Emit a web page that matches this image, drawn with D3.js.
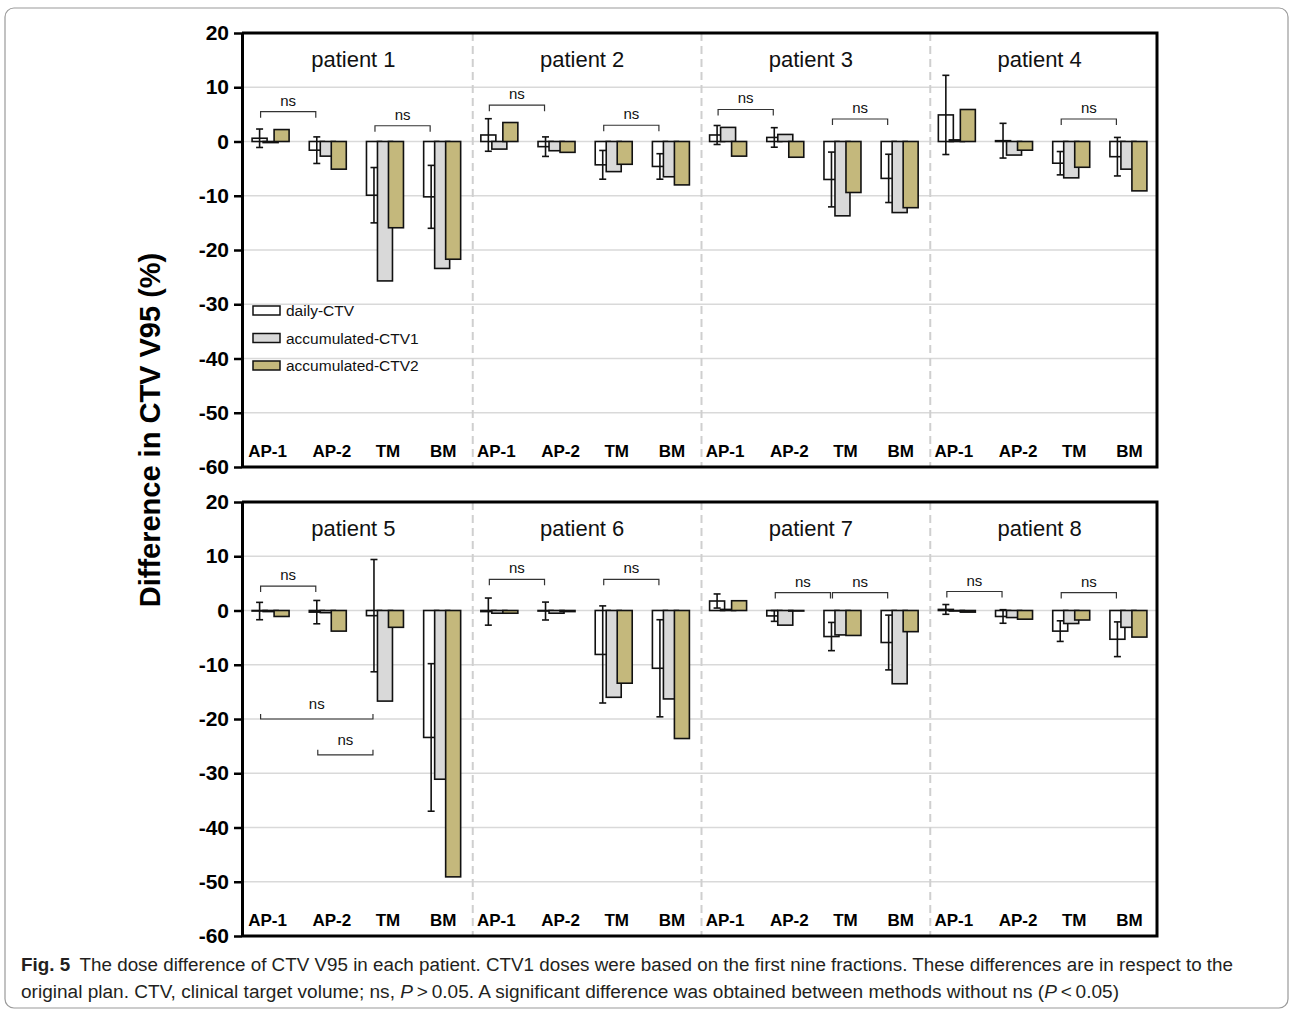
<!DOCTYPE html>
<html>
<head>
<meta charset="utf-8">
<script src="https://cdn.jsdelivr.net/npm/d3@7"></script>
<style>
  body { margin: 0; background: #fff; }
  text { font-family: "Liberation Sans", Arial, sans-serif; }
</style>
</head>
<body>
<svg width="1290" height="1011"></svg>
<script>
// ---- data ----
let patients = ["patient 1", "patient 2", "patient 3", "patient 4",
                "patient 5", "patient 6", "patient 7", "patient 8"];
let sites = ["AP-1", "AP-2", "TM", "BM"];
let methods = ["daily-CTV", "accumulated-CTV1", "accumulated-CTV2"];
let yTicks = [20, 10, 0, -10, -20, -30, -40, -50, -60];

// one row per patient, columns follow sites
let dailyCTV = [
  [0.6, -1.6, -9.9, -10.2],
  [1.2, -0.95, -4.3, -4.6],
  [1.2, 0.75, -7.0, -6.8],
  [4.9, 0.15, -4.0, -2.8],
  [-0.1, -0.3, -0.95, -23.4],
  [-0.2, -0.1, -8.1, -10.65],
  [1.75, -1.0, -4.8, -5.9],
  [0.2, -1.1, -3.8, -5.3]
];
let dailySD = [
  [1.7, 2.45, 5.1, 5.8],
  [3.0, 1.8, 2.65, 2.35],
  [1.75, 1.8, 5.05, 4.45],
  [7.3, 3.2, 2.15, 3.55],
  [1.6, 2.15, 10.35, 13.6],
  [2.5, 1.65, 8.95, 8.95],
  [1.3, 1.0, 2.6, 5.05],
  [0.9, 1.25, 1.9, 3.2]
];
let accCTV1 = [
  [-0.2, -2.7, -25.7, -23.4],
  [-1.4, -1.7, -5.55, -6.5],
  [2.6, 1.3, -13.7, -13.1],
  [0.3, -2.5, -6.7, -5.1],
  [-0.2, -0.4, -16.7, -31.1],
  [-0.5, -0.5, -16.0, -16.3],
  [0.2, -2.7, -4.5, -13.5],
  [-0.1, -1.3, -2.4, -3.1]
];
let accCTV2 = [
  [2.2, -5.1, -15.9, -21.7],
  [3.5, -2.0, -4.2, -8.0],
  [-2.7, -2.9, -9.4, -12.2],
  [5.9, -1.6, -4.75, -9.1],
  [-1.1, -3.8, -3.1, -49.1],
  [-0.5, -0.2, -13.4, -23.6],
  [1.8, -0.1, -4.6, -3.9],
  [-0.3, -1.6, -1.75, -4.9]
];
// [patient, from site, to site, level, opens upward]
let nsBrackets = [
  [0, 0, 1, 5.5, false], [0, 2, 3, 2.9, false],
  [1, 0, 1, 6.7, false], [1, 2, 3, 3.0, false],
  [2, 0, 1, 5.9, false], [2, 2, 3, 4.15, false],
  [3, 2, 3, 4.15, false],
  [4, 0, 1, 4.5, false], [4, 0, 2, -20, true], [4, 1, 2, -26.6, true],
  [5, 0, 1, 5.75, false], [5, 2, 3, 5.75, false],
  [6, 1, 2, 3.3, false], [6, 2, 3, 3.3, false],
  [7, 0, 1, 3.5, false], [7, 2, 3, 3.3, false]
];

let series = [dailyCTV, accCTV1, accCTV2];
let colors = ["#ffffff", "#d9d9d9", "#c4b87c"];

// ---- layout ----
let svg = d3.select("svg");
let left = 242, right = 1157;
let panels = [{top: 33, bottom: 467}, {top: 502, bottom: 936}];

let x0 = d3.scaleBand().domain([0, 1, 2, 3]).range([left, right]);
let x1 = d3.scaleBand().domain(sites).range([0, x0.bandwidth()]);
let x2 = d3.scalePoint().domain(methods).range([-11, 11]);
let barW = 15;
let labelShift = {"AP-1": -3, "AP-2": 4, "TM": 3, "BM": 1};

function siteX(col, s) { return x0(col) + x1(s) + x1.bandwidth() / 2; }

// outer frame
svg.append("rect")
  .attr("x", 5).attr("y", 8).attr("width", 1283).attr("height", 1000)
  .attr("rx", 9).attr("fill", "none").attr("stroke", "#9a9a9a").attr("stroke-width", 1.2);

panels.forEach(function(pn, row) {
  let y = d3.scaleLinear().domain([-60, 20]).range([pn.bottom, pn.top]);
  let g = svg.append("g");

  // grid
  g.selectAll(".grid")
    .data(yTicks.filter(function(t) { return t < 20 && t > -60; }))
    .enter().append("line")
    .attr("x1", left).attr("x2", right)
    .attr("y1", function(d) { return y(d); }).attr("y2", function(d) { return y(d); })
    .attr("stroke", "#d9d9d9").attr("stroke-width", 1.5);

  // dashed separators
  g.selectAll(".sep")
    .data([1, 2, 3])
    .enter().append("line")
    .attr("x1", function(d) { return x0(d) + 2; }).attr("x2", function(d) { return x0(d) + 2; })
    .attr("y1", pn.top).attr("y2", pn.bottom)
    .attr("stroke", "#cfcfcf").attr("stroke-width", 2).attr("stroke-dasharray", "8,5");

  for (let col = 0; col < 4; col++) {
    let p = row * 4 + col;

    g.append("text")
      .attr("x", x0(col) + x0.bandwidth() / 2 - 3)
      .attr("y", pn.top + 34)
      .attr("text-anchor", "middle")
      .attr("font-size", 22).attr("fill", "#111")
      .text(patients[p]);

    g.selectAll(".cat" + p)
      .data(sites)
      .enter().append("text")
      .attr("x", function(s) { return siteX(col, s) + labelShift[s]; })
      .attr("y", pn.bottom - 10)
      .attr("text-anchor", "middle")
      .attr("font-size", 17).attr("font-weight", "bold")
      .text(function(s) { return s; });

    series.forEach(function(ser, m) {
      g.selectAll(".bar" + p + "_" + m)
        .data(ser[p])
        .enter().append("rect")
        .attr("x", function(v, i) { return siteX(col, sites[i]) + x2(methods[m]) - barW / 2; })
        .attr("y", function(v) { return Math.min(y(v), y(0)); })
        .attr("width", barW)
        .attr("height", function(v) { return Math.abs(y(v) - y(0)); })
        .attr("fill", colors[m])
        .attr("stroke", "#111").attr("stroke-width", 1.6);

      if (m === 0) {
        // error bars on daily-CTV
        let eg = g.selectAll(".err" + p)
          .data(ser[p])
          .enter().append("g")
          .attr("transform", function(v, i) {
            return "translate(" + (siteX(col, sites[i]) + x2(methods[0])) + ",0)";
          });
        eg.append("line")
          .attr("y1", function(v, i) { return y(v + dailySD[p][i]); })
          .attr("y2", function(v, i) { return y(v - dailySD[p][i]); })
          .attr("stroke", "#111").attr("stroke-width", 1.6);
        [1, -1].forEach(function(sgn) {
          eg.append("line")
            .attr("x1", -3.5).attr("x2", 3.5)
            .attr("y1", function(v, i) { return y(v + sgn * dailySD[p][i]); })
            .attr("y2", function(v, i) { return y(v + sgn * dailySD[p][i]); })
            .attr("stroke", "#111").attr("stroke-width", 1.6);
        });
      }
    });
  }

  // ns brackets
  nsBrackets.filter(function(b) { return Math.floor(b[0] / 4) === row; }).forEach(function(b) {
    let col = b[0] % 4;
    let xa = siteX(col, sites[b[1]]) + x2(methods[0]) + 1;
    let xb = siteX(col, sites[b[2]]) + x2(methods[0]) - 1;
    let yy = y(b[3]);
    let tick = b[4] ? -5 : 6;
    g.append("path")
      .attr("d", "M" + xa + "," + (yy + tick) + "V" + yy + "H" + xb + "V" + (yy + tick))
      .attr("fill", "none").attr("stroke", "#333").attr("stroke-width", 1.2);
    g.append("text")
      .attr("x", (xa + xb) / 2)
      .attr("y", b[4] ? yy - 10 : yy - 6)
      .attr("text-anchor", "middle")
      .attr("font-size", 15).attr("fill", "#111")
      .text("ns");
  });

  // frame and axis
  g.append("path")
    .attr("d", "M" + left + "," + pn.top + "H" + right + "V" + pn.bottom + "H" + left)
    .attr("fill", "none").attr("stroke", "#000").attr("stroke-width", 3);

  let ax = g.append("g")
    .attr("transform", "translate(" + left + ",0)")
    .call(d3.axisLeft(y).tickValues(yTicks).tickSize(8).tickPadding(5).tickSizeOuter(0)
      .tickFormat(function(d) { return String(d); }));
  ax.select(".domain").attr("stroke-width", 3);
  ax.selectAll(".tick line").attr("stroke-width", 2.5);
  ax.selectAll(".tick text")
    .attr("font-size", 21).attr("font-weight", "bold").attr("fill", "#000")
    .attr("font-family", "Liberation Sans, Arial, sans-serif");
});

// legend
let lg = svg.append("g");
methods.forEach(function(m, i) {
  let cy = 311 + i * 27.5;
  lg.append("rect")
    .attr("x", 253).attr("y", cy - 5).attr("width", 27).attr("height", 9)
    .attr("fill", colors[i]).attr("stroke", "#111").attr("stroke-width", 1.5);
  lg.append("text")
    .attr("x", 286).attr("y", cy + 5)
    .attr("font-size", 15.5).attr("fill", "#111")
    .text(m);
});

// y title
svg.append("text")
  .attr("transform", "translate(160,430) rotate(-90)")
  .attr("text-anchor", "middle")
  .attr("font-size", 29).attr("font-weight", "bold")
  .text("Difference in CTV V95 (%)");

// caption
let capFont = "'Liberation Sans Narrow', 'DejaVu Sans Condensed', 'Open Sans', sans-serif";
let c1 = svg.append("text")
  .attr("x", 21).attr("y", 971)
  .attr("font-size", 18).attr("fill", "#231f20")
  .attr("font-family", capFont)
  .attr("textLength", 1212).attr("lengthAdjust", "spacingAndGlyphs");
c1.append("tspan").attr("font-weight", "bold").text("Fig. 5");
c1.append("tspan").text("\u2002The dose difference of CTV V95 in each patient. CTV1 doses were based on the first nine fractions. These differences are in respect to the");

let c2 = svg.append("text")
  .attr("x", 21).attr("y", 998)
  .attr("font-size", 18).attr("fill", "#231f20")
  .attr("font-family", capFont)
  .attr("textLength", 1098).attr("lengthAdjust", "spacingAndGlyphs");
c2.append("tspan").text("original plan. CTV, clinical target volume; ns, ");
c2.append("tspan").attr("font-style", "italic").text("P");
c2.append("tspan").text("\u2009>\u20090.05. A significant difference was obtained between methods without ns (");
c2.append("tspan").attr("font-style", "italic").text("P");
c2.append("tspan").text("\u2009<\u20090.05)");
</script>
</body>
</html>
